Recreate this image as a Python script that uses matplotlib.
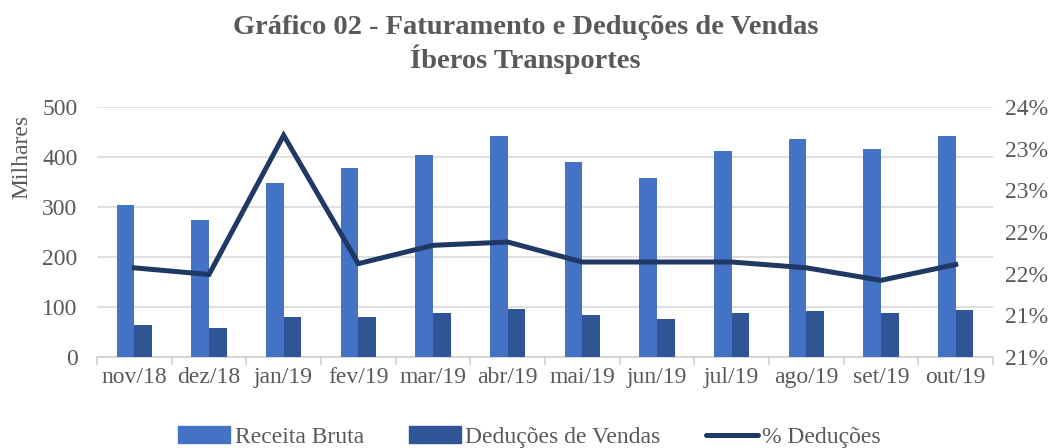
import numpy as np
import matplotlib
matplotlib.use("Agg")
import matplotlib.pyplot as plt
from matplotlib.ticker import FuncFormatter, MultipleLocator, FixedLocator
from matplotlib.lines import Line2D
from matplotlib.patches import Patch

plt.rcParams['font.family'] = ['Liberation Serif', 'DejaVu Serif']

meses = ['nov/18', 'dez/18', 'jan/19', 'fev/19', 'mar/19', 'abr/19',
         'mai/19', 'jun/19', 'jul/19', 'ago/19', 'set/19', 'out/19']
receita_bruta = [304, 273, 348, 378, 403, 441, 390, 358, 412, 436, 416, 442]
deducoes = [65, 58, 80, 81, 88, 96, 84, 77, 88, 93, 88, 94]
perc_deducoes = [21.57, 21.49, 23.16, 21.62, 21.84, 21.88,
                 21.64, 21.64, 21.64, 21.57, 21.42, 21.61]

cinza = '#595959'
azul_claro = '#4472C4'
azul_escuro = '#2F5597'
azul_linha = '#1F3864'

fig = plt.figure(figsize=(10.59, 4.48), dpi=100)
ax = fig.add_axes([97/1059, 1-357/448, 896/1059, 250/448])
ax2 = ax.twinx()

x = np.arange(len(meses))
w = 0.237
ax.bar(x - w/2, receita_bruta, width=w, color=azul_claro, zorder=3)
ax.bar(x + w/2, deducoes, width=w, color=azul_escuro, zorder=3)

ax.set_xlim(-0.5, len(meses) - 0.5)
ax.set_ylim(0, 500)
ax.yaxis.set_major_locator(MultipleLocator(100))
ax.grid(axis='y', color='#D9D9D9', linewidth=1.2, zorder=0)
ax.set_axisbelow(True)
for s in ['top', 'left', 'right']:
    ax.spines[s].set_visible(False)
ax.spines['bottom'].set_color('#D0D0D0')
ax.spines['bottom'].set_linewidth(1.2)

ax.set_xticks(x)
ax.set_xticklabels(meses)
ax.tick_params(axis='x', length=0, pad=7, labelsize=17, labelcolor=cinza)
ax.xaxis.set_minor_locator(FixedLocator(np.arange(-0.5, len(meses), 1)))
ax.tick_params(axis='x', which='minor', length=6, color='#D0D0D0', width=1.2)
ax.tick_params(axis='y', length=0, pad=14, labelsize=17, labelcolor=cinza)

ax2.plot(x, perc_deducoes, color=azul_linha, linewidth=3.6, zorder=4,
         solid_joinstyle='miter')
ax2.set_ylim(20.5, 23.5)
ax2.yaxis.set_major_locator(MultipleLocator(0.5))
ax2.yaxis.set_major_formatter(FuncFormatter(lambda v, p: '%d%%' % int(np.floor(v + 0.5 + 1e-9))))
ax2.tick_params(axis='y', length=0, pad=9, labelsize=17, labelcolor=cinza)
for s in ['top', 'left', 'right', 'bottom']:
    ax2.spines[s].set_visible(False)

fig.text(22/1059, 1-157/448, 'Milhares', rotation=90, ha='center', va='center',
         fontsize=17, color=cinza)

fig.text(0.496, 1-27/448, 'Gráfico 02 - Faturamento e Deduções de Vendas',
         ha='center', va='center', fontsize=20.5, fontweight='bold', color=cinza)
fig.text(0.496, 1-59/448, 'Íberos Transportes',
         ha='center', va='center', fontsize=20.5, fontweight='bold', color=cinza)

handles = [Patch(color=azul_claro), Patch(color=azul_escuro),
           Line2D([0], [0], color=azul_linha, linewidth=3.6, solid_capstyle='round')]
labels = ['Receita Bruta', 'Deduções de Vendas', '% Deduções']
fig.legend(handles, labels, loc='center', bbox_to_anchor=(0.5, 1-437/448),
           ncol=3, frameon=False, fontsize=17, labelcolor=cinza,
           handlelength=2.2, handletextpad=0.2, columnspacing=1.9,
           handleheight=0.7)

fig.savefig('out.png', dpi=100)
